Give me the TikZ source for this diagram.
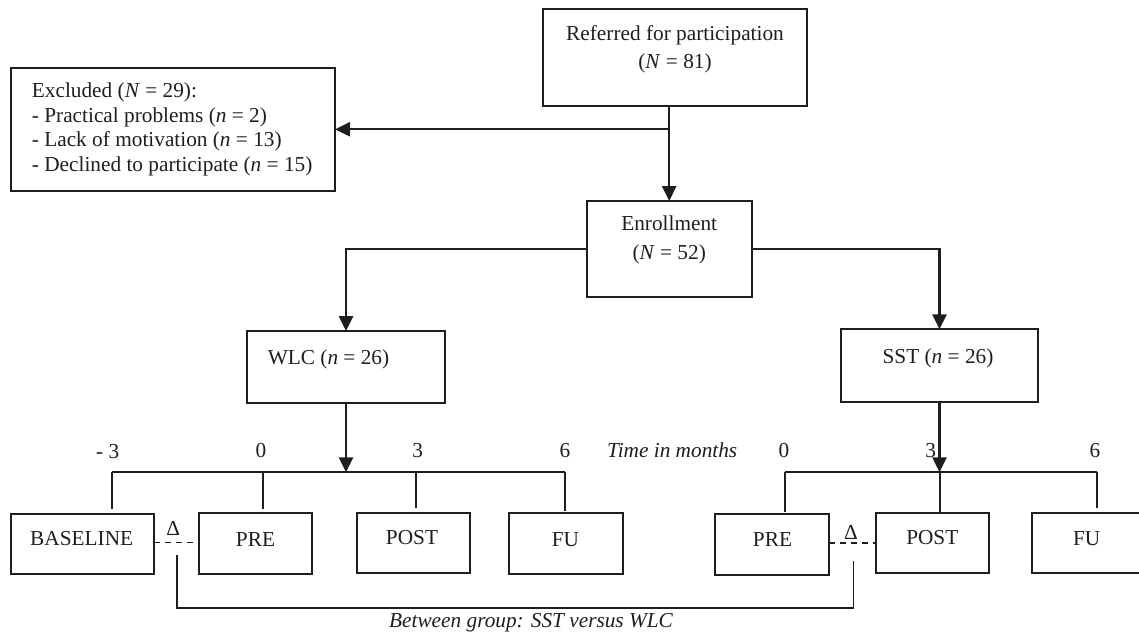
\documentclass[tikz,border=0pt]{standalone}
\usepackage{fontspec}
\setmainfont{Liberation Serif}
\usetikzlibrary{arrows.meta,calc}
\definecolor{ink}{RGB}{30,30,30}
\begin{document}
\begin{tikzpicture}[x=1pt,y=-1pt,
  bx/.style={draw=ink, line width=1.9pt, inner sep=0pt, outer sep=0pt},
  txt/.style={inner sep=0pt, text=ink, font=\fontsize{21.3}{25}\selectfont},
  txtone/.style={txt, text height=15pt, text depth=0pt},
  arr/.style={draw=ink, line width=2.4pt, -{Triangle[length=15pt,width=14pt]}},
  lnk/.style={draw=ink, line width=1.8pt},
  tick/.style={draw=ink, line width=1.6pt},
  dsh/.style={draw=ink, line width=1.6pt, dash pattern=on 6pt off 5pt}
]
\useasboundingbox (0,0) rectangle (1139,636);

% upper boxes
\node[bx, minimum width=264.6pt, minimum height=96.4pt] (ref) at (675,57.5) {};
\node[txt, align=center, font=\fontsize{21.3}{28.4}\selectfont] (reft) at (675,49.5)
  {Referred for participation\\(\textit{N} = 81)};

\node[bx, minimum width=324.3pt, minimum height=122.7pt] (excl) at (172.9,129.3) {};
\node[txt, align=left, anchor=west, font=\fontsize{21.3}{24.8}\selectfont] (exclt) at (31.7,129.3)
  {Excluded (\textit{N} = 29):\\- Practical problems (\textit{n} = 2)\\- Lack of motivation (\textit{n} = 13)\\- Declined to participate (\textit{n} = 15)};

\node[bx, minimum width=165pt, minimum height=95.7pt] (enr) at (669.2,248.9) {};
\node[txt, align=center, font=\fontsize{21.3}{29.3}\selectfont] (enrt) at (669.2,240)
  {Enrollment\\(\textit{N} = 52)};

\node[bx, minimum width=198pt, minimum height=71.7pt] (wlc) at (346,366.9) {};
\node[txtone] (wlct) at (328.5,356.7) {WLC (\textit{n} = 26)};
\node[bx, minimum width=197.2pt, minimum height=72.7pt] (sst) at (939.5,365.7) {};
\node[txtone] (sstt) at (938,356) {SST (\textit{n} = 26)};

% bottom boxes
\node[bx, minimum width=143.6pt, minimum height=60pt] (bl) at (82.5,544.3) {};
\node[bx, minimum width=113pt, minimum height=60.7pt] (preA) at (255.2,543.7) {};
\node[bx, minimum width=113.3pt, minimum height=60.6pt] (postA) at (413.3,543) {};
\node[bx, minimum width=114pt, minimum height=61.3pt] (fuA) at (566.3,543.3) {};
\node[bx, minimum width=113.8pt, minimum height=60.4pt] (preB) at (772.1,544.5) {};
\node[bx, minimum width=113pt, minimum height=60.6pt] (postB) at (932.8,543) {};
\node[bx, minimum width=109.3pt, minimum height=60.6pt] (fuB) at (1086.4,543) {};

\node[txtone] (blt) at (81.7,538.3) {BASELINE};
\node[txtone] (preAt) at (255.5,539.3) {PRE};
\node[txtone] (postAt) at (412,537.3) {POST};
\node[txtone] (fuAt) at (565.5,539) {FU};
\node[txtone] (preBt) at (772.5,539) {PRE};
\node[txtone] (postBt) at (932.3,537.3) {POST};
\node[txtone] (fuBt) at (1086.7,538.3) {FU};

% time labels
\node[txtone] (tmA) at (107.7,450.7) {- 3};
\node[txtone] (tzA) at (261,450) {0};
\node[txtone] (ttA) at (417.7,450) {3};
\node[txtone] (tsA) at (565,450) {6};
\node[txtone, font=\fontsize{21.3}{25}\selectfont\itshape] (tim) at (672.2,450) {Time in months};
\node[txtone] (tzB) at (784,450) {0};
\node[txtone] (ttB) at (930.7,450) {3};
\node[txtone] (tsB) at (1095,450) {6};

% connectors top
\coordinate (junc) at (enr.north |- excl.east);
\draw[arr] (ref.south -| enr.north) -- (enr.north);
\draw[arr] (junc) -- (excl.east);
\draw[arr] (enr.west) -| (wlc.north);
\draw[arr] (enr.east) -| (sst.north);

% WLC timeline
\coordinate (la) at (111.7,472.3);
\coordinate (lb) at (565,472.3);
\draw[lnk] (la) -- (lb);
\draw[arr] (wlc.south) -- (wlc.south |- la);
\coordinate (ka) at (111.7,509.3);
\coordinate (kb0) at (262.7,472.3);
\coordinate (kb) at (262.7,509.3);
\coordinate (kc0) at (416,472.3);
\coordinate (kc) at (416,508.3);
\coordinate (kd) at (565,511);
\draw[tick] (la) -- (ka);
\draw[tick] (kb0) -- (kb);
\draw[tick] (kc0) -- (kc);
\draw[tick] (lb) -- (kd);

% SST timeline
\coordinate (ra) at (785,472.3);
\coordinate (rb) at (1096.7,472.3);
\draw[lnk] (ra) -- (rb);
\draw[arr] (sst.south) -- (sst.south |- ra);
\coordinate (qa) at (785,512);
\coordinate (qb0) at (940,472.3);
\coordinate (qb) at (940,512.5);
\coordinate (qc) at (1096.7,508);
\draw[tick] (ra) -- (qa);
\draw[tick] (qb0) -- (qb);
\draw[tick] (rb) -- (qc);

% within-group deltas
\coordinate (dl) at (0,542.3);
\coordinate (dr) at (0,542.7);
\draw[dsh] (bl.east |- dl) -- (preA.west |- dl);
\draw[dsh] (preB.east |- dr) -- (postB.west |- dr);
\node[txtone] (deltaA) at (173.3,527.5) {Δ};
\node[txtone] (deltaB) at (851,531.5) {Δ};

% between-group bracket
\coordinate (bkl) at (176.7,555);
\coordinate (bkr) at (853.5,560.7);
\coordinate (bkb) at (0,607.7);
\draw[tick] (bkl) -- (bkl |- bkb) -| (bkr);
\node[txtone, font=\fontsize{21.3}{25}\selectfont\itshape] (btw) at (531,620) {Between group: SST versus WLC};
\end{tikzpicture}
\end{document}
